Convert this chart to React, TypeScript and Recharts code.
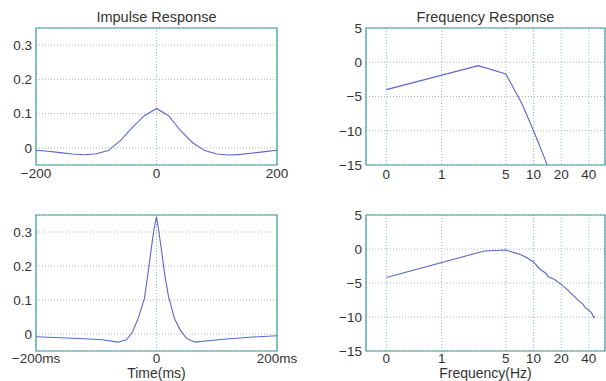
import React from 'react';
import { LineChart, Line, XAxis, YAxis, CartesianGrid, ReferenceArea } from 'recharts';

// impulse response, wide (top left)
const WIDE_T = [-200, -180, -160, -140, -120, -100, -80, -60, -40, -20, 0, 20, 40, 60, 80, 100, 120, 140, 160, 180, 200];
const WIDE_V = [-0.007, -0.01, -0.014, -0.018, -0.02, -0.017, -0.008, 0.021, 0.06, 0.094, 0.115, 0.094, 0.05, 0.015, -0.008, -0.018, -0.021, -0.019, -0.015, -0.011, -0.007];

// impulse response, narrow (bottom left)
const NARROW_T = [-200, -160, -120, -90, -64, -50, -40, -30, -20, -14, -8, -4, 0, 4, 8, 14, 20, 30, 40, 50, 64, 90, 120, 160, 200];
const NARROW_V = [-0.008, -0.011, -0.014, -0.017, -0.024, -0.017, 0.005, 0.048, 0.105, 0.18, 0.26, 0.31, 0.345, 0.3, 0.25, 0.17, 0.11, 0.045, 0.01, -0.013, -0.024, -0.019, -0.014, -0.009, -0.005];

// frequency responses (Hz, dB)
const FREQ_A_HZ = [0, 2.5, 5, 7.5, 10, 12.5, 15];
const FREQ_A_DB = [-4.0, -0.5, -1.7, -6.1, -10, -13.2, -16];

const FREQ_B_HZ = [0, 2.9, 5, 6, 7.2, 8.5, 10, 11.6, 13.7, 14.5, 17, 20, 23, 25.5, 28.5, 31.6, 34.4, 36, 38, 40, 41.6, 43.4, 45.1, 47];
const FREQ_B_DB = [-4.2, -0.3, -0.15, -0.5, -0.8, -1.3, -1.9, -2.9, -3.6, -4.1, -4.5, -5.2, -5.9, -6.5, -7.1, -7.7, -8.1, -8.5, -8.8, -9.0, -9.2, -9.5, -10.1, -9.9];

const TIME_TICKS = [-200, 0, 200];
const IMP_TICKS = [0, 0.1, 0.2, 0.3];
const FREQ_TICKS = [0, 1, 5, 10, 20, 40];
const DB_TICKS = [-15, -10, -5, 0, 5];

// log axis: DC is drawn where 0.25 Hz would be
const DC_POS = 0.25;
const toAxis = (f: number) => (f === 0 ? DC_POS : f);

const FONT = "'Liberation Sans', Arial, Helvetica, sans-serif";
const TXT = '#333';
const FRAME = '#3f9c9e';
const LINE = '#5a66cc';
const tick = { fontSize: 13.5, fill: TXT, fontFamily: FONT };

const minus = (s: string) => s.replace('-', '\u2212');

const wideData = WIDE_T.map((t, i) => ({ t, v: WIDE_V[i] }));
const narrowData = NARROW_T.map((t, i) => ({ t, v: NARROW_V[i] }));
const freqA = FREQ_A_HZ.map((f, i) => ({ f: toAxis(f), db: FREQ_A_DB[i] }));
const freqB = FREQ_B_HZ.map((f, i) => ({ f: toAxis(f), db: FREQ_B_DB[i] }));

const Grid = () => (
  <>
    <CartesianGrid vertical={false} stroke="#b9aeb4" strokeDasharray="1 2" />
    <CartesianGrid horizontal={false} stroke="#86c4c8" strokeDasharray="1 2" />
  </>
);

const ImpulseChart = ({ data, top, height, marginTop, axisH, tickGap, suffix }: any) => (
  <div style={{ position: 'absolute', left: 0, top, width: 300, height }}>
    <LineChart width={300} height={height} data={data} margin={{ top: marginTop, right: 23, bottom: 0, left: 0 }}>
      <Grid />
      <XAxis
        dataKey="t"
        type="number"
        domain={[-200, 200]}
        ticks={TIME_TICKS}
        tick={tick}
        tickLine={false}
        tickSize={0}
        tickMargin={tickGap}
        axisLine={false}
        height={axisH}
        interval={0}
        tickFormatter={(v: number) => (v === 0 ? '0' : minus(`${v}${suffix}`))}
      />
      <YAxis
        type="number"
        domain={[-0.05, 0.35]}
        ticks={IMP_TICKS}
        tick={tick}
        tickLine={false}
        tickSize={0}
        tickMargin={4}
        axisLine={false}
        width={36}
        interval={0}
        allowDataOverflow
        tickFormatter={(v: number) => String(v)}
      />
      <ReferenceArea x1={-200} x2={200} y1={-0.05} y2={0.35} fill="none" stroke={FRAME} strokeWidth={1.2} fillOpacity={0} />
      <Line type="linear" dataKey="v" stroke={LINE} strokeWidth={1.1} dot={false} isAnimationActive={false} />
    </LineChart>
  </div>
);

const FreqChart = ({ data, top, height, marginTop, axisH, tickGap }: any) => (
  <div style={{ position: 'absolute', left: 300, top, width: 306, height }}>
    <LineChart width={306} height={height} data={data} margin={{ top: marginTop, right: 1, bottom: 0, left: 0 }}>
      <Grid />
      <XAxis
        dataKey="f"
        type="number"
        scale="log"
        domain={[0.15, 60]}
        allowDataOverflow
        ticks={FREQ_TICKS.map(toAxis)}
        tick={tick}
        tickLine={false}
        tickSize={0}
        tickMargin={tickGap}
        axisLine={false}
        height={axisH}
        interval={0}
        tickFormatter={(v: number) => (v === DC_POS ? '0' : String(v))}
      />
      <YAxis
        type="number"
        domain={[-15, 5]}
        ticks={DB_TICKS}
        tick={tick}
        tickLine={false}
        tickSize={0}
        tickMargin={4}
        axisLine={false}
        width={66}
        interval={0}
        allowDataOverflow
        tickFormatter={(v: number) => minus(String(v))}
      />
      <ReferenceArea x1={0.15} x2={60} y1={-15} y2={5} fill="none" stroke={FRAME} strokeWidth={1.2} fillOpacity={0} />
      <Line type="linear" dataKey="db" stroke={LINE} strokeWidth={1.1} dot={false} isAnimationActive={false} />
    </LineChart>
  </div>
);

const label = (text: string, left: number, top: number, width: number, size = 14.5, lh = 18) => (
  <div
    style={{
      position: 'absolute',
      left,
      top,
      width,
      height: lh,
      lineHeight: `${lh}px`,
      textAlign: 'center',
      fontFamily: FONT,
      fontSize: size,
      color: TXT,
      whiteSpace: 'nowrap',
    }}
  >
    {text}
  </div>
);

export default function App() {
  return (
    <div style={{ position: 'absolute', left: 0, top: 0, width: 606, height: 381, background: '#fff', overflow: 'hidden' }}>
      <ImpulseChart data={wideData} top={0} height={190} marginTop={28} axisH={25} tickGap={3} suffix="" />
      <FreqChart data={freqA} top={0} height={190} marginTop={28} axisH={25} tickGap={4} />
      <ImpulseChart data={narrowData} top={190} height={191} marginTop={25} axisH={30} tickGap={2} suffix="ms" />
      <FreqChart data={freqB} top={190} height={191} marginTop={25} axisH={30} tickGap={2} />
      {label('Impulse Response', 36, 8, 241)}
      {label('Frequency Response', 366, 8, 239)}
      {label('Time(ms)', 36, 365, 241, 14, 16)}
      {label('Frequency(Hz)', 366, 365, 239, 14, 16)}
    </div>
  );
}
